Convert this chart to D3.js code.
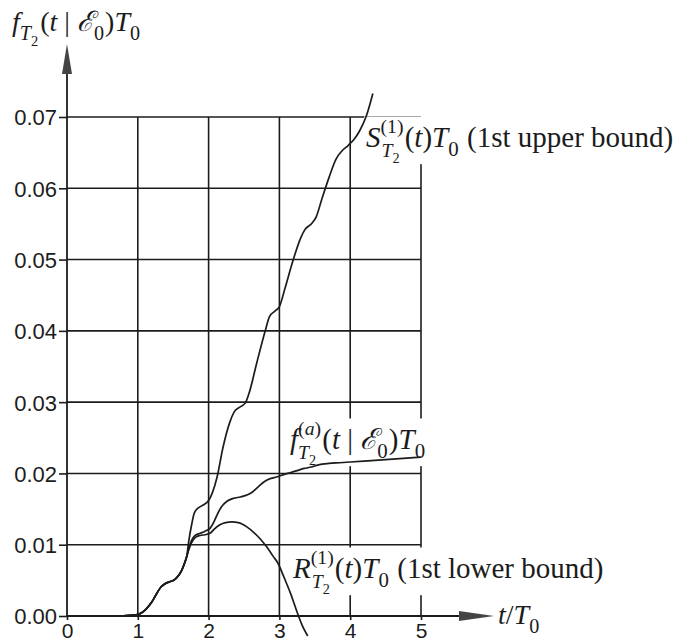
<!DOCTYPE html>
<html>
<head>
<meta charset="utf-8">
<script src="https://cdn.jsdelivr.net/npm/d3@7/dist/d3.min.js"></script>
<style>
  html, body { margin: 0; padding: 0; background: #fff; }
  svg { display: block; }
  text { white-space: pre; }
</style>
</head>
<body>
<svg id="chart" width="682" height="644"></svg>
<script>
// Axis ticks
const tTicks = [0, 1, 2, 3, 4, 5];
const yTicks = [0.00, 0.01, 0.02, 0.03, 0.04, 0.05, 0.06, 0.07];

// Part of the density shared by all three curves (t/T0, value)
const sharedT = [0.6, 0.8, 0.9, 1.0, 1.06, 1.12, 1.2, 1.27, 1.33, 1.38, 1.45, 1.52, 1.57, 1.62, 1.66, 1.69];
const sharedV = [0, 0.00003, 0.0001, 0.0002, 0.0005, 0.001, 0.002, 0.0032, 0.0041, 0.0045, 0.0048, 0.0051, 0.0056, 0.0064, 0.0074, 0.0083];

// 1st upper bound S
const upperT = [1.72, 1.76, 1.80, 1.86, 1.93, 2.00, 2.05, 2.12, 2.20, 2.30, 2.36, 2.44, 2.52, 2.57, 2.68, 2.80, 2.86, 2.94, 3.00, 3.08, 3.19, 3.30, 3.36, 3.46, 3.52, 3.60, 3.70, 3.80, 3.88, 3.97, 4.05, 4.13, 4.23, 4.32];
const upperV = [0.0105, 0.0128, 0.0145, 0.0152, 0.0156, 0.0162, 0.0172, 0.0195, 0.0235, 0.0272, 0.0286, 0.0293, 0.0299, 0.0312, 0.0355, 0.0400, 0.0420, 0.0428, 0.0434, 0.0460, 0.0498, 0.0530, 0.0542, 0.0551, 0.0560, 0.0585, 0.0615, 0.0641, 0.0652, 0.0660, 0.0668, 0.0680, 0.0702, 0.0733];

// Approximation f^(a)
const approxT = [1.72, 1.76, 1.81, 1.88, 1.95, 2.02, 2.07, 2.12, 2.18, 2.26, 2.35, 2.45, 2.55, 2.62, 2.70, 2.78, 2.88, 2.96, 3.05, 3.15, 3.25, 3.35, 3.45, 3.55, 3.70, 3.85, 4.00, 4.30, 4.60, 5.00];
const approxV = [0.0095, 0.0106, 0.0113, 0.0116, 0.0119, 0.0123, 0.0131, 0.0142, 0.0153, 0.0161, 0.0165, 0.0167, 0.0170, 0.0174, 0.0181, 0.0188, 0.0193, 0.0195, 0.0198, 0.0201, 0.0204, 0.0207, 0.0209, 0.0212, 0.0214, 0.0215, 0.0216, 0.0218, 0.0220, 0.0223];

// 1st lower bound R
const lowerT = [1.72, 1.76, 1.81, 1.88, 1.95, 2.02, 2.08, 2.16, 2.24, 2.33, 2.42, 2.54, 2.64, 2.73, 2.82, 2.91, 2.98, 3.05, 3.10, 3.16, 3.22, 3.27, 3.33, 3.40];
const lowerV = [0.0093, 0.0103, 0.0110, 0.0113, 0.0114, 0.0116, 0.0122, 0.0128, 0.0131, 0.0132, 0.0131, 0.0125, 0.0117, 0.0108, 0.0097, 0.0084, 0.0074, 0.0058, 0.0046, 0.0031, 0.0014, 0.0, -0.0015, -0.0028];

const INK = "#1c1c1c";
const SERIF = "'Liberation Serif', 'Times New Roman', serif";
const SANS = "'Liberation Sans', Arial, sans-serif";

const svg = d3.select("#chart");
const x = d3.scaleLinear().domain([0, 5]).range([67, 421]);
const y = d3.scaleLinear().domain([0, 0.07]).range([616, 117]);

const gridLayer = svg.append("g");
const bgLayer = svg.append("g");
const curveLayer = svg.append("g");
const textLayer = svg.append("g");

// Grid
gridLayer.selectAll("line.v").data(tTicks.filter(d => d > 0)).join("line")
  .attr("x1", d => x(d)).attr("x2", d => x(d))
  .attr("y1", y(0)).attr("y2", y(0.07))
  .attr("stroke", INK).attr("stroke-width", 1.6);
gridLayer.selectAll("line.h").data(yTicks.filter(d => d > 0)).join("line")
  .attr("x1", x(0)).attr("x2", x(5))
  .attr("y1", d => y(d)).attr("y2", d => y(d))
  .attr("stroke", INK).attr("stroke-width", 1.6);

// Axes with arrows
const yAxis = d3.axisLeft(y).tickValues(yTicks).tickFormat(d3.format(".2f")).tickSize(8).tickPadding(2);
const yg = svg.append("g").attr("transform", `translate(${x(0)},0)`).call(yAxis);
yg.select(".domain").remove();
yg.selectAll(".tick line").attr("stroke", INK).attr("stroke-width", 1.6);
yg.selectAll(".tick text").attr("font-family", SANS).attr("font-size", 22).attr("fill", INK).attr("dy", "0.36em");

const xAxis = d3.axisBottom(x).tickValues(tTicks).tickFormat(d3.format("d")).tickSize(4).tickPadding(5);
const xg = svg.append("g").attr("transform", `translate(0,${y(0)})`).call(xAxis);
xg.select(".domain").remove();
xg.selectAll(".tick line").attr("stroke", INK).attr("stroke-width", 1.6);
xg.selectAll(".tick text").attr("font-family", SANS).attr("font-size", 21).attr("fill", INK).attr("dy", "0.62em");

svg.append("line").attr("x1", x(0)).attr("x2", x(0)).attr("y1", y(0)).attr("y2", 72)
  .attr("stroke", INK).attr("stroke-width", 1.8);
svg.append("path").attr("d", `M${x(0)},44 L${x(0) - 5},74 L${x(0) + 5},74 Z`).attr("fill", "#444");
svg.append("line").attr("x1", x(0)).attr("x2", 462).attr("y1", y(0)).attr("y2", y(0))
  .attr("stroke", INK).attr("stroke-width", 1.8);
svg.append("path").attr("d", `M494,${y(0)} L459,${y(0) - 5} L459,${y(0) + 5} Z`).attr("fill", "#444");

// Curves
const line = d3.line().x(d => x(d[0])).y(d => y(d[1])).curve(d3.curveMonotoneX);
function series(ts, vs) {
  return sharedT.map((t, i) => [t, sharedV[i]]).concat(ts.map((t, i) => [t, vs[i]]));
}
[[upperT, upperV], [approxT, approxV], [lowerT, lowerV]].forEach(([ts, vs]) => {
  curveLayer.append("path").datum(series(ts, vs)).attr("d", line)
    .attr("fill", "none").attr("stroke", INK).attr("stroke-width", 1.7);
});

// Math-style labels: one <text> per label, built from tspans with
// baseline shifts and stacked sub/superscripts.
function build(text, parts, size, yOff, st) {
  let width = 0;
  parts.forEach(p => {
    if (p.t !== undefined) {
      const ts = text.append("tspan")
        .attr("font-size", size)
        .attr("font-style", p.it ? "italic" : "normal")
        .attr("dy", yOff - st.cy)
        .attr("dx", st.dx)
        .text(p.t);
      st.cy = yOff; st.dx = 0;
      width += ts.node().getComputedTextLength();
    } else {
      let supW = 0, subW = 0;
      const shift = p.subShift || 0;
      const stacked = p.sup && p.sub;
      const scale = stacked ? 0.68 : 0.72;
      if (p.sup) supW = build(text, p.sup, size * scale, yOff - size * (stacked ? 0.5 : 0.45), st);
      if (p.sub) {
        st.dx += shift - supW;
        subW = build(text, p.sub, size * scale, yOff + size * (stacked ? 0.34 : 0.32), st) + shift;
      }
      const w = Math.max(supW, subW) + size * 0.04;
      // advance to the end of the wider script
      st.dx += w - (p.sub ? subW : supW);
      width += w;
    }
  });
  return width;
}
function mathLabel(parts, x0, y0, size, withBg) {
  const text = textLayer.append("text").attr("x", x0).attr("y", y0)
    .attr("font-family", SERIF).attr("fill", INK);
  build(text, parts, size, 0, { cy: 0, dx: 0 });
  if (withBg) {
    const b = text.node().getBBox();
    bgLayer.append("rect").attr("x", b.x - 2).attr("y", b.y + 2)
      .attr("width", b.width + 4).attr("height", b.height - 4).attr("fill", "#fff");
  }
  return text;
}
const T2 = [{ t: "T", it: true }, { sub: [{ t: "2" }] }];
const E0 = [{ t: "ℰ", it: true }, { sub: [{ t: "0" }] }];
const TT0 = [{ t: "T", it: true }, { sub: [{ t: "0" }] }];

// Y-axis title
mathLabel([{ t: "f", it: true }, { sub: T2 }, { t: "(" }, { t: "t", it: true }, { t: " | " }]
  .concat(E0, [{ t: ")" }], TT0), 12, 31, 28, false);

// X-axis title
mathLabel([{ t: "t", it: true }, { t: "/" }].concat(TT0), 498, 624, 28, false);

// Curve labels
mathLabel([{ t: "S", it: true }, { sub: T2, sup: [{ t: "(1)" }], subShift: 1 }, { t: "(" }, { t: "t", it: true }, { t: ")" }]
  .concat(TT0, [{ t: " (1st upper bound)" }]), 366, 147, 29, true);

mathLabel([{ t: "f", it: true }, { sub: T2, sup: [{ t: "(" }, { t: "a", it: true }, { t: ")" }] }, { t: "(" }, { t: "t", it: true }, { t: " | " }]
  .concat(E0, [{ t: ")" }], TT0), 290, 449, 29, true);

mathLabel([{ t: "R", it: true }, { sub: T2, sup: [{ t: "(1)" }], subShift: 1 }, { t: "(" }, { t: "t", it: true }, { t: ")" }]
  .concat(TT0, [{ t: " (1st lower bound)" }]), 293, 578, 29, true);
</script>
</body>
</html>
